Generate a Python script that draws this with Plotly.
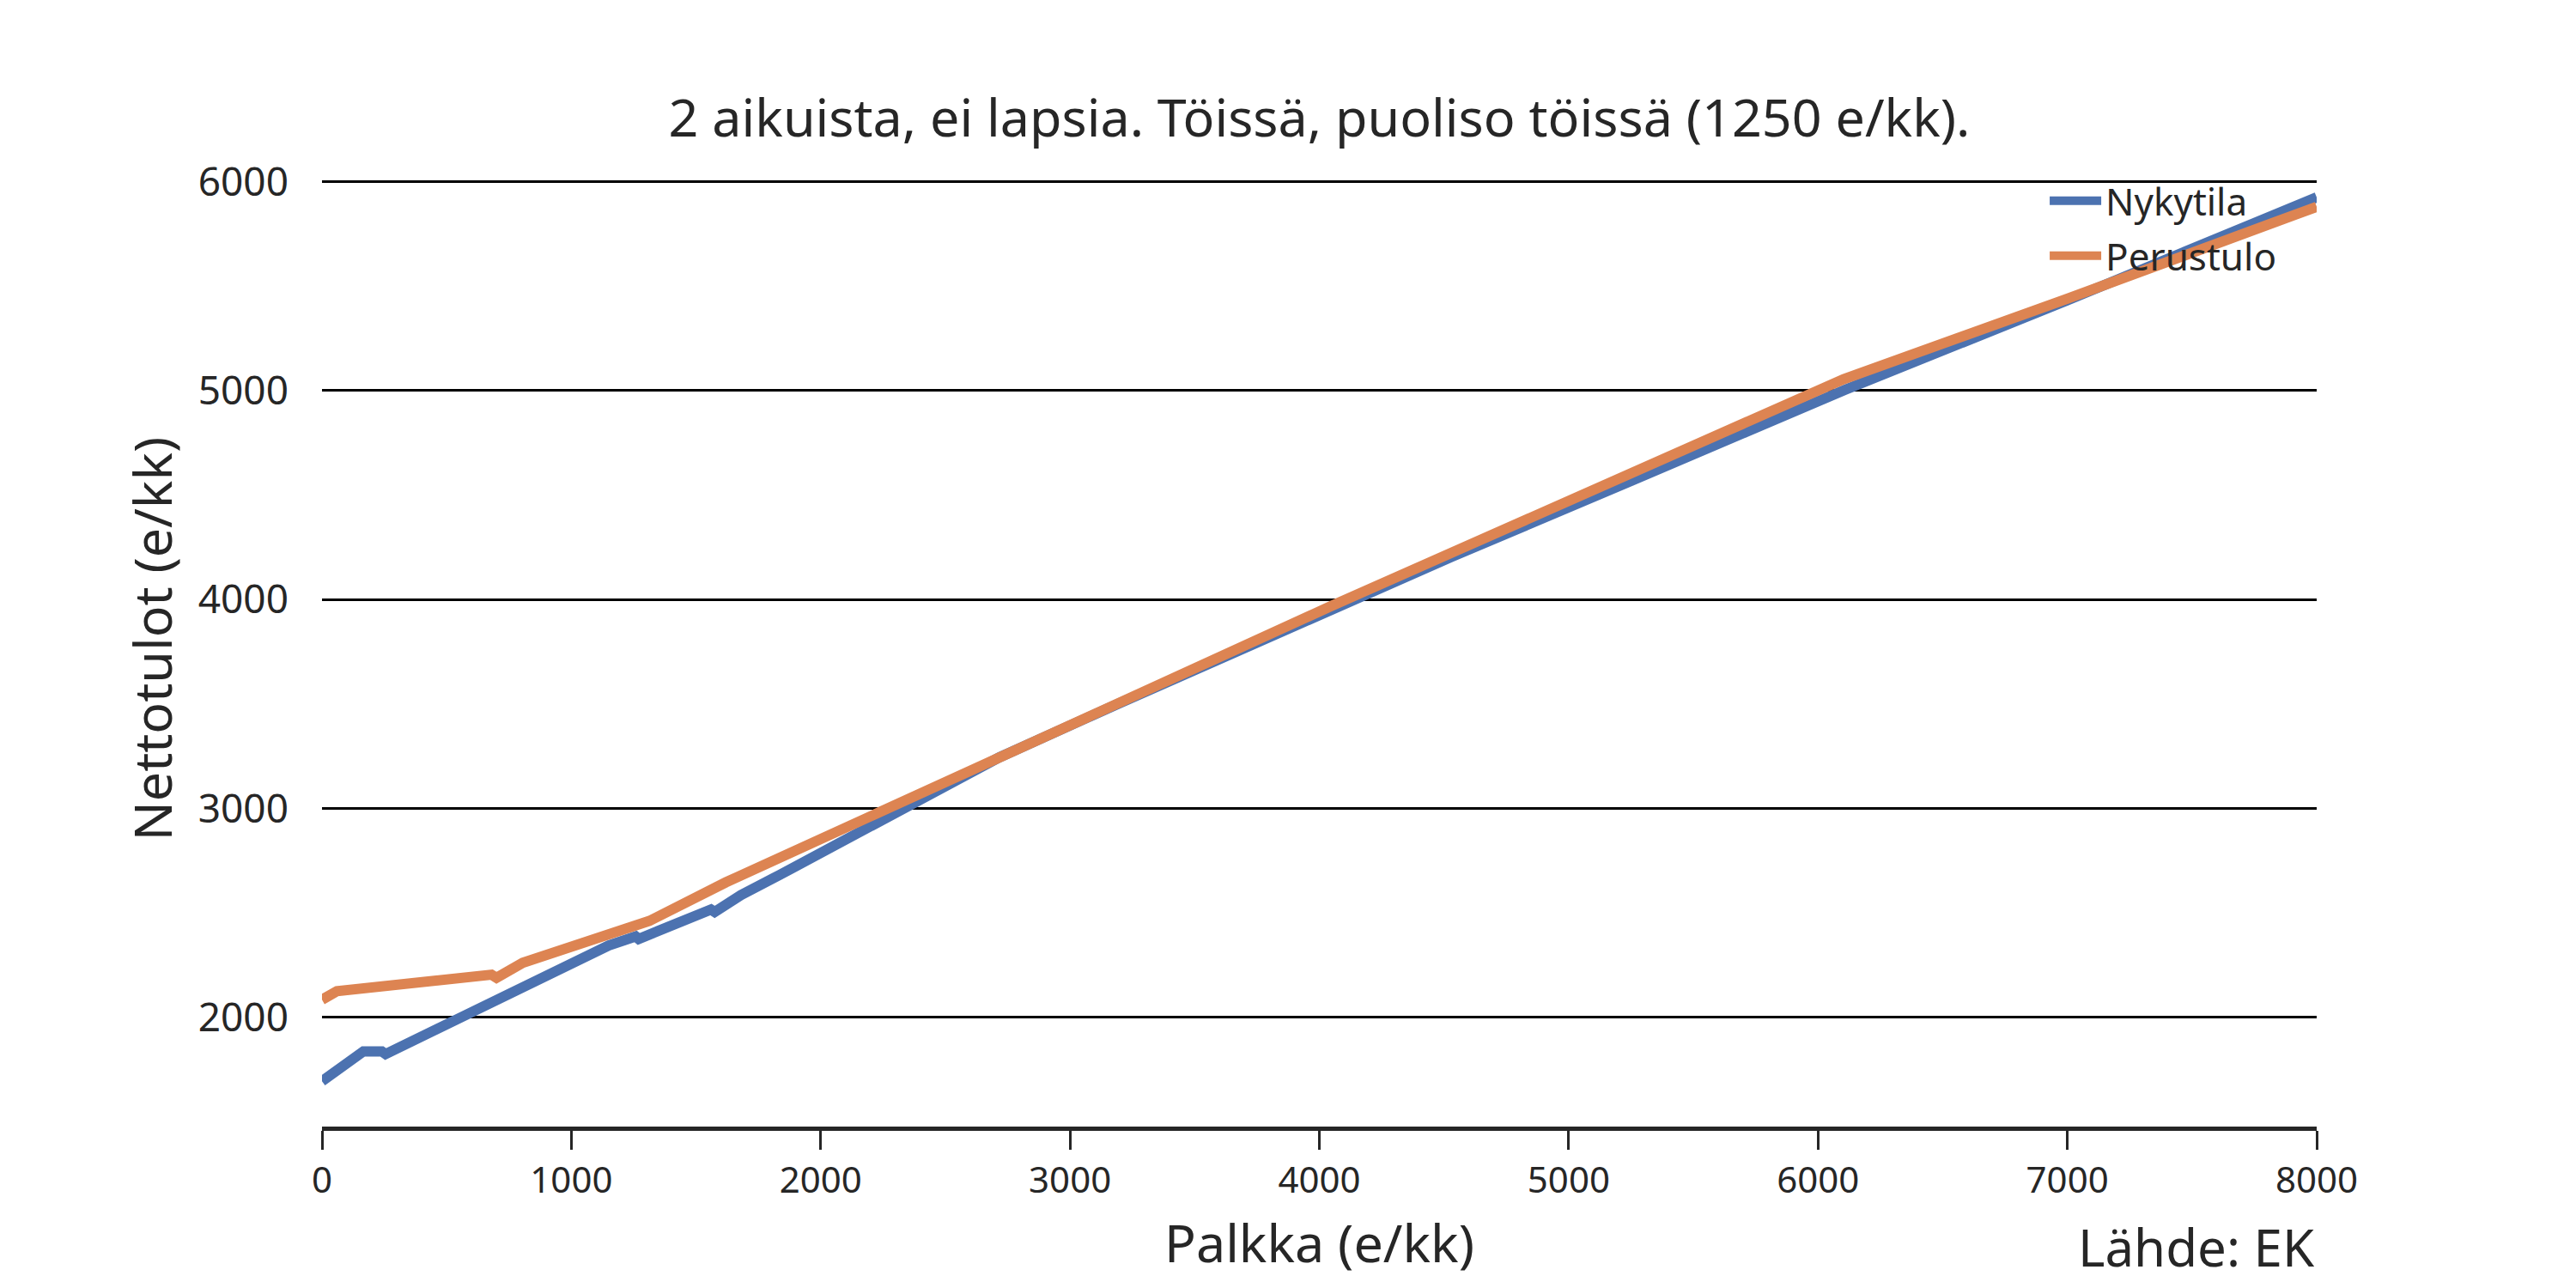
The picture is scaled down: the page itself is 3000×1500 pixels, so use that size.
import plotly.graph_objects as go

# Palkka (e/kk) vs Nettotulot (e/kk)
nykytila_x = [0, 57, 166, 240, 255, 1150, 1258, 1270, 1560, 1575, 1680, 1835, 2000, 2717, 3200, 4046, 4532, 5251, 5940, 6110, 7000, 8000]
nykytila_y = [1695, 1742, 1838, 1838, 1825, 2345, 2388, 2376, 2517, 2505, 2586, 2682, 2785, 3245, 3505, 3955, 4205, 4568, 4918, 5005, 5432, 5925]

perustulo_x = [0, 60, 680, 700, 805, 1160, 1313, 1620, 1989, 2717, 3200, 4046, 4532, 5251, 5940, 6103, 7000, 8000]
perustulo_y = [2085, 2126, 2205, 2190, 2262, 2400, 2462, 2647, 2847, 3255, 3515, 3968, 4225, 4609, 4965, 5055, 5440, 5880]

x_ticks = [0, 1000, 2000, 3000, 4000, 5000, 6000, 7000, 8000]
y_ticks = [2000, 3000, 4000, 5000, 6000]

title_text = "2 aikuista, ei lapsia. Töissä, puoliso töissä (1250 e/kk)."
x_label = "Palkka (e/kk)"
y_label = "Nettotulot (e/kk)"
source_text = "Lähde: EK"

FONT = "Noto Sans"
TXT = "#262626"

fig = go.Figure()
fig.add_trace(go.Scatter(x=nykytila_x, y=nykytila_y, mode="lines", name="Nykytila",
                         legendgroup="a", line=dict(color="#4C72B0", width=12)))
fig.add_trace(go.Scatter(x=perustulo_x, y=perustulo_y, mode="lines", name="Perustulo",
                         legendgroup="b", line=dict(color="#DD8452", width=12)))

fig.update_layout(
    width=3000, height=1500,
    margin=dict(l=367, r=310, t=169, b=196, pad=0),
    paper_bgcolor="white", plot_bgcolor="white",
    font=dict(family=FONT, color=TXT, size=46),
    title=dict(text=title_text, x=(367 + 2690) / 2 / 3000, xanchor="center",
               y=1 - 130 / 1500, yanchor="middle", yref="container",
               font=dict(size=61, family=FONT, color=TXT)),
    showlegend=True,
    legend=dict(x=0.864, xanchor="left", y=0.981, yanchor="top",
                bgcolor="rgba(0,0,0,0)", font=dict(size=44, family=FONT, color=TXT),
                itemwidth=60, traceorder="grouped", tracegroupgap=4),
    xaxis=dict(range=[0, 8000], tickvals=x_ticks, ticktext=[str(v) for v in x_ticks],
               showgrid=False, zeroline=False, showline=True, linecolor=TXT, linewidth=5,
               ticks="outside", ticklen=22, tickwidth=3, tickcolor=TXT,
               tickfont=dict(size=42, family=FONT, color=TXT)),
    yaxis=dict(range=[1478, 6142], tickvals=y_ticks, ticktext=[str(v) for v in y_ticks],
               showgrid=True, gridcolor="black", gridwidth=2.5, zeroline=False,
               showline=False, ticks="", ticklabelstandoff=38,
               tickfont=dict(size=46, family=FONT, color=TXT)),
)

fig.add_annotation(text=x_label, xref="paper", yref="paper", x=0.5, y=1 - (1446 - 177) / 1135,
                   xanchor="center", yanchor="middle", showarrow=False,
                   font=dict(size=61, family=FONT, color=TXT))
fig.add_annotation(text=y_label, xref="paper", yref="paper", x=(176 - 375) / 2323, y=0.5,
                   xanchor="center", yanchor="middle", textangle=-90, showarrow=False,
                   font=dict(size=61, family=FONT, color=TXT))
fig.add_annotation(text=source_text, xref="paper", yref="paper", x=1.0, y=1 - (1452 - 177) / 1135,
                   xanchor="right", yanchor="middle", showarrow=False,
                   font=dict(size=60, family=FONT, color=TXT))

fig.write_html("out.html")
